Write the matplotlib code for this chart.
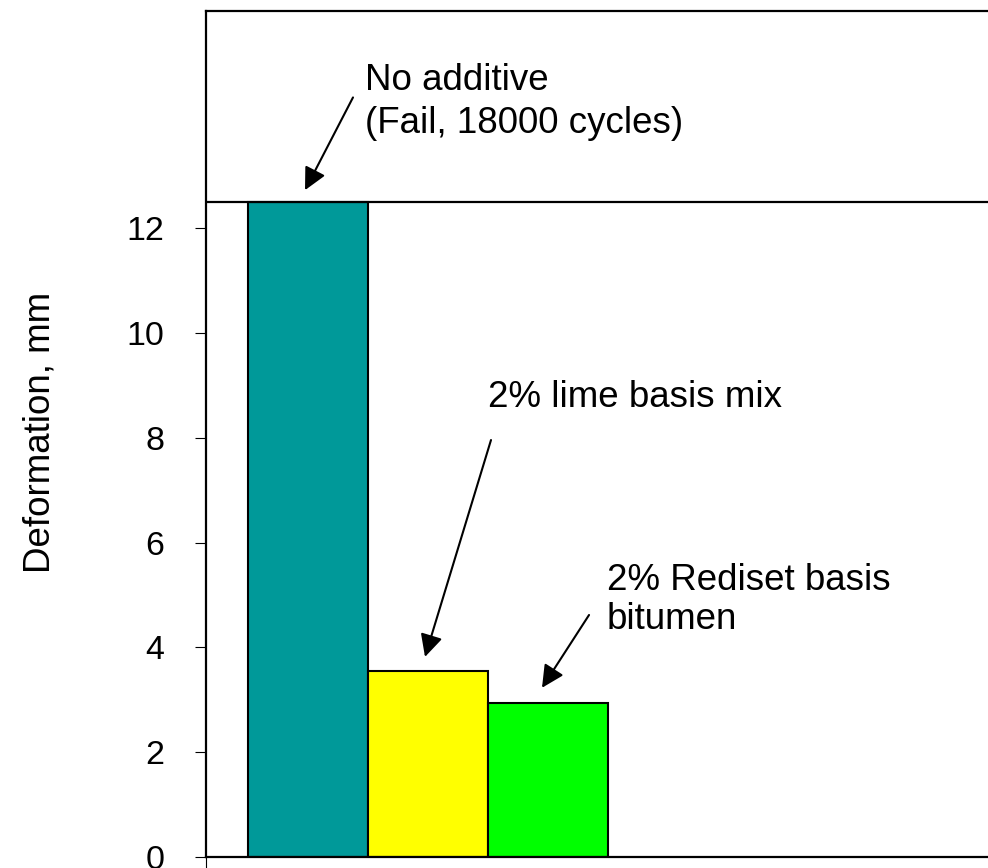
import matplotlib
matplotlib.use("Agg")
import matplotlib.pyplot as plt

# values
mixes = ["No additive", "2% lime basis mix", "2% Rediset basis bitumen"]
deformation = [12.5, 3.55, 2.94]
colors = ["#009999", "#FFFF00", "#00FF00"]
yticks = [0, 2, 4, 6, 8, 10, 12]
fail_level = 12.5

plt.rcParams['font.family'] = ['Liberation Sans', 'DejaVu Sans']

W, H = 988, 868
fig = plt.figure(figsize=(W / 100, H / 100), dpi=100)
ax = fig.add_axes([206 / W, 11 / H, (W - 206) / W, 846 / H])

x = list(range(len(mixes)))
ax.bar(x, deformation, width=1.0, color=colors, edgecolor="black", linewidth=1.5, zorder=2)
ax.axhline(fail_level, color="black", lw=1.6, zorder=3)

ax.set_xlim(-0.85, -0.85 + (W - 206) / 120)
ax.set_ylim(0, 16.15)
ax.set_yticks(yticks)
ax.set_yticklabels([str(v) for v in yticks], fontsize=24.5)
ax.set_xticks([-0.85])
ax.set_xticklabels([""])
ax.tick_params(axis="y", direction="out", length=8, width=0.8, pad=22)
ax.tick_params(axis="x", direction="out", length=8, width=0.8)
ax.spines["right"].set_visible(False)
for s in ["left", "top", "bottom"]:
    ax.spines[s].set_linewidth(1.6)

fig.text(40 / W, 1 - 432 / H, "Deformation, mm", rotation=90, fontsize=26.5,
         ha="center", va="center")

fs = 26.5
arrow = dict(arrowstyle="-|>", lw=1.5, color="black", mutation_scale=34, shrinkA=0, shrinkB=0)
ax.annotate("", xy=(-0.025, 12.73), xytext=(0.375, 14.5), arrowprops=arrow)
ax.text(0.475, 15.15, "No additive\n(Fail, 18000 cycles)", fontsize=fs,
        ha="left", va="top", linespacing=1.28)

ax.annotate("", xy=(0.975, 3.82), xytext=(1.525, 7.96), arrowprops=arrow)
ax.text(1.5, 9.10, "2% lime basis mix", fontsize=fs, ha="left", va="top")

ax.annotate("", xy=(1.95, 3.23), xytext=(2.342, 4.62), arrowprops=arrow)
ax.text(2.492, 5.61, "2% Rediset basis\nbitumen", fontsize=fs,
        ha="left", va="top", linespacing=1.15)

fig.savefig("out.png", dpi=100)
